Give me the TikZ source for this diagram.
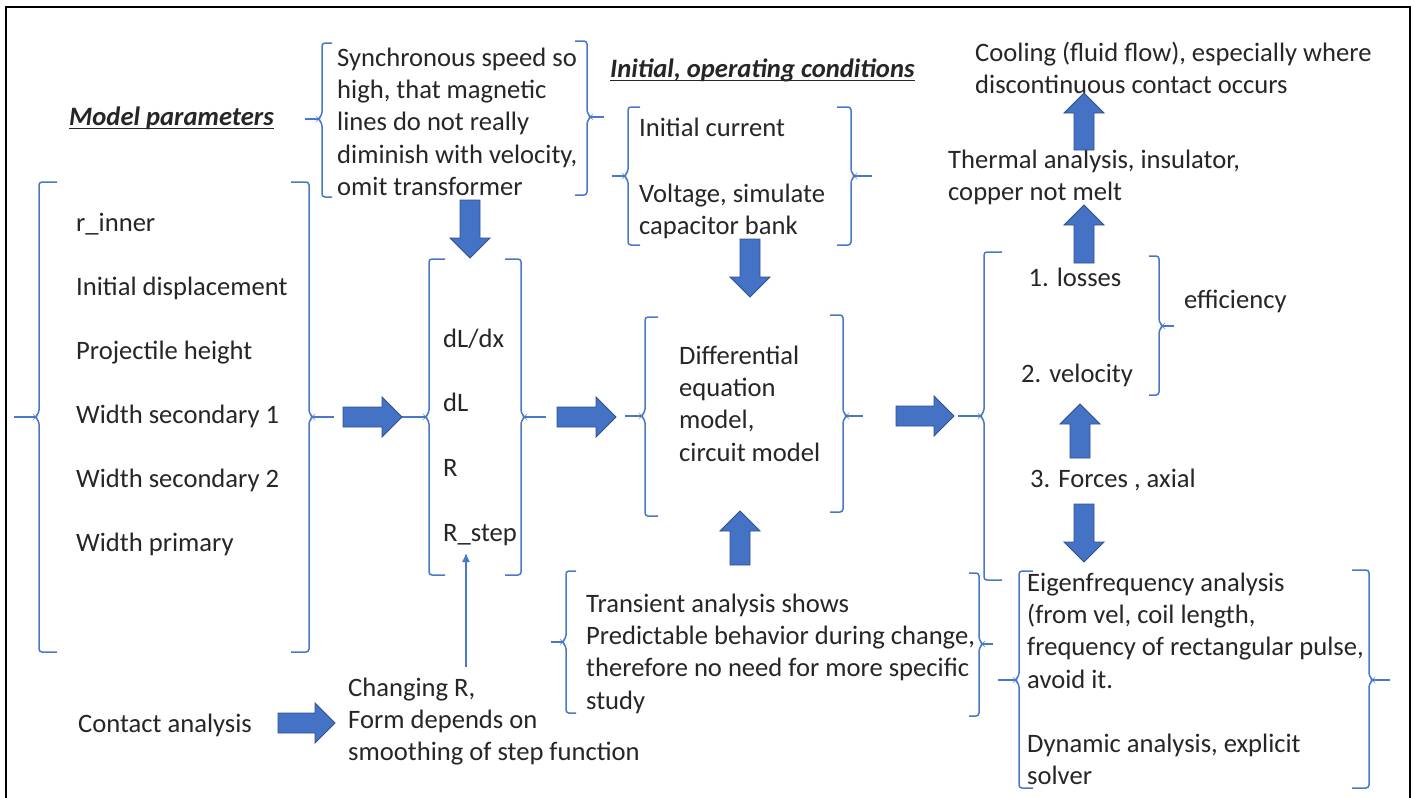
\documentclass[tikz,border=0pt]{standalone}
\usepackage{fontspec}
\setmainfont{Carlito}
\usetikzlibrary{arrows.meta}
\definecolor{brkblue}{HTML}{4A78C8}
\definecolor{arrfill}{HTML}{4472C4}
\definecolor{arredge}{HTML}{2F528F}
\definecolor{txtc}{HTML}{262626}
\newcommand\fs{\fontsize{26.6}{32.3}\selectfont}

% left bracket: x, top, bottom, tick y, tick end x, end length
\newcommand\lbrk[6]{%
  \draw[brk] ({#1+#6},#2) -- (#1,#2) -- (#1,{#4-4}) -- ({#1-4},#4) -- (#1,{#4+4}) -- (#1,#3) -- ({#1+#6},#3);
  \draw[brkline] ({#1-4},#4) -- (#5,#4);}
% right bracket: x, top, bottom, tick y, tick end x, end length
\newcommand\rbrk[6]{%
  \draw[brk] ({#1-#6},#2) -- (#1,#2) -- (#1,{#4-4}) -- ({#1+4},#4) -- (#1,{#4+4}) -- (#1,#3) -- ({#1-#6},#3);
  \draw[brkline] ({#1+4},#4) -- (#5,#4);}
% block arrows
\newcommand\arR[3]{% x start, x tip, y
  \draw[blk] (#1,{#3-10}) -- ({#2-20},{#3-10}) -- ({#2-20},{#3-20}) -- (#2,#3) -- ({#2-20},{#3+20}) -- ({#2-20},{#3+10}) -- (#1,{#3+10}) -- cycle;}
\newcommand\arD[3]{% x, y start, y tip
  \draw[blk] ({#1-10},#2) -- ({#1-10},{#3-20}) -- ({#1-20},{#3-20}) -- (#1,#3) -- ({#1+20},{#3-20}) -- ({#1+10},{#3-20}) -- ({#1+10},#2) -- cycle;}
\newcommand\arU[3]{% x, y start, y tip
  \draw[blk] ({#1-10},#2) -- ({#1-10},{#3+20}) -- ({#1-20},{#3+20}) -- (#1,#3) -- ({#1+20},{#3+20}) -- ({#1+10},{#3+20}) -- ({#1+10},#2) -- cycle;}

\tikzset{
  brk/.style={draw=brkblue, line width=1.5pt, rounded corners=3pt},
  brkline/.style={draw=brkblue, line width=1.5pt},
  blk/.style={fill=arrfill, draw=arredge, line width=0.8pt, line join=miter},
  txt/.style={anchor=north west, inner sep=0pt, align=left, font=\fs, text=txtc, yshift=-2.5pt},
  one/.style={anchor=base west, inner sep=0pt, font=\fs, text=txtc, yshift=-2.5pt},
  ttl/.style={anchor=base west, inner sep=0pt, font=\fs\bfseries\itshape, text=txtc, yshift=-2pt},
  thinarrow/.style={draw=brkblue, line width=1.4pt, -{Latex[length=9pt,width=8pt]}},
}

\begin{document}
\begin{tikzpicture}[x=1pt,y=-1pt]
\useasboundingbox (0,0) rectangle (1414,798);
\fill[white] (0,0) rectangle (1414,798);
% outer frame
\draw[black, line width=2.2pt] (6,798) -- (6,7) -- (1410,7) -- (1410,798);

% headings
\node[ttl] (mp) at (69,123) {Model parameters};
\draw[txtc, line width=1.3pt] ([yshift=-3.5pt]mp.base west) -- ([yshift=-3.5pt]mp.base east);
\node[ttl] (ioc) at (610,75.5) {Initial, operating conditions};
\draw[txtc, line width=1.3pt] ([yshift=-3pt]ioc.base west) -- ([yshift=-3pt]ioc.base east);

% text groups
\node[txt] (sync) at (337,{63.5-22.6}) {\strut Synchronous speed so\\high, that magnetic\\lines do not really\\diminish with velocity,\\omit transformer};
\node[txt] (params) at (76,{228.5-22.6}) {\strut r\_inner\\[31.7pt]Initial displacement\\[31.7pt]Projectile height\\[31.7pt]Width secondary 1\\[31.7pt]Width secondary 2\\[31.7pt]Width primary};
\node[txt] (init) at (639,{133.5-22.6}) {\strut Initial current\\[33.7pt]Voltage, simulate\\capacitor bank};
\node[txt] (dl) at (443,{344.5-22.6}) {\strut dL/dx\\[32.3pt]dL\\[32.3pt]R\\[32.3pt]R\_step};
\node[txt] (diff) at (679,{361.5-22.6}) {\strut Differential\\equation\\model,\\circuit model};
\node[txt] (trans) at (586,{609.5-22.6}) {\strut Transient analysis shows\\Predictable behavior during change,\\therefore no need for more specific\\study};
\node[txt] (eigen) at (1027,{588.5-22.6}) {\strut Eigenfrequency analysis\\(from vel, coil length,\\frequency of rectangular pulse,\\avoid it.\\[32pt]Dynamic analysis, explicit\\solver};
\node[txt] (cool) at (975,{58.5-22.6}) {\strut Cooling (fluid flow), especially where\\discontinuous contact occurs};
\node[txt] (therm) at (948,{165.5-22.6}) {\strut Thermal analysis, insulator,\\copper not melt};
\node[txt] (chg) at (348,{693.5-22.6}) {\strut Changing R,\\Form depends on\\smoothing of step function};
\node[one, anchor=base] (loss) at (1075,283.5) {1. losses};
\node[one, anchor=base] (vel) at (1077,379.5) {2. velocity};
\node[one] (eff) at (1184,305.5) {efficiency};
\node[one] (forces) at (1030,484.5) {3. Forces , axial};
\node[one] (contact) at (78,729.5) {Contact analysis};

% brackets
\lbrk{39}{182}{652}{417}{14}{18}
\rbrk{309}{182}{652}{417}{334}{18}
\lbrk{322}{43}{197}{119}{305}{10}
\rbrk{587}{41}{195}{117}{604}{12}
\lbrk{628}{107}{245}{176}{612}{12}
\rbrk{851}{107}{245}{176}{872}{14}
\lbrk{429}{259}{575}{417}{402}{16}
\rbrk{521}{259}{575}{417}{546}{16}
\lbrk{645}{317}{516}{416}{625}{13}
\rbrk{843}{315}{512}{416}{863}{13}
\lbrk{984}{252}{580}{416}{958}{18}
\rbrk{1159}{256}{395}{326}{1174}{10}
\lbrk{566}{571}{713}{642}{551}{10}
\rbrk{979}{573}{716}{644}{993}{10}
\lbrk{1019}{571}{788}{680}{998}{14}
\rbrk{1369}{570}{788}{680}{1390}{17}

% block arrows
\arR{343}{402}{417}
\arR{557}{616}{417}
\arR{896}{954}{416}
\arR{278}{335}{723}
\arD{470}{200}{258}
\arD{750}{239}{297}
\arU{740}{565}{511}
\arU{1084}{263}{205}
\arU{1084}{150}{93}
\arU{1080}{458}{404}
\arD{1084}{504}{562}

% thin connector from the contact result up to the R_step entry
\coordinate (chgtop) at (466,667);
\coordinate (rstep) at (466,553);
\draw[thinarrow] (chgtop) -- (rstep);
\end{tikzpicture}
\end{document}
